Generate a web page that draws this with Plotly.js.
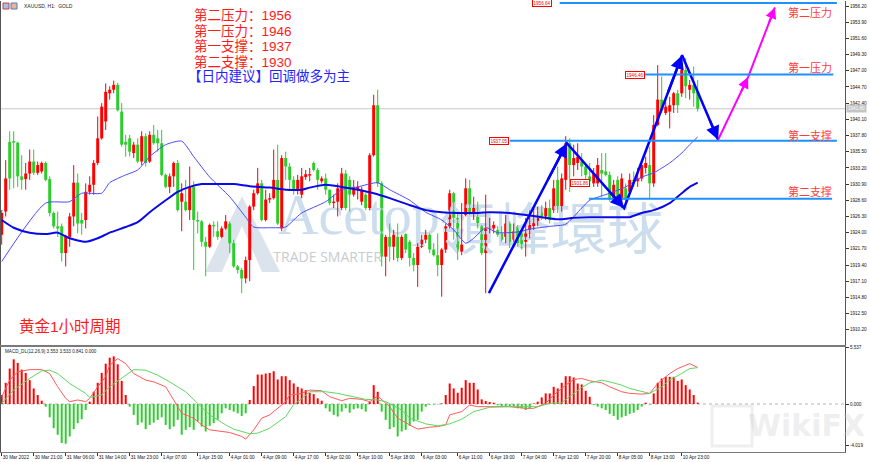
<!DOCTYPE html>
<html><head><meta charset="utf-8">
<script src="https://cdn.plot.ly/plotly-3.0.1.min.js"></script>
<style>html,body{margin:0;padding:0;background:#fff}#chart{width:870px;height:462px}</style>
</head><body><div id="chart"></div>
<script>
// ---- candle data (XAUUSD H1), bar index 0..174 ----
const openP = [1923.7,1927.0,1936.9,1937.0,1936.8,1932.0,1931.6,1932.4,1934.1,1932.5,
1932.7,1933.9,1931.6,1926.8,1924.9,1924.9,1921.1,1923.4,1926.3,1931.1,
1925.8,1925.8,1929.8,1930.8,1933.9,1937.4,1939.8,1943.8,1944.3,1945.0,
1941.2,1936.9,1937.4,1935.3,1936.5,1934.1,1937.7,1934.1,1937.9,1937.4,
1936.7,1932.2,1930.5,1932.0,1933.9,1928.4,1928.4,1927.2,1930.5,1925.8,
1925.6,1922.7,1922.0,1925.1,1924.2,1923.4,1924.6,1925.3,1922.5,1919.2,
1918.7,1917.5,1920.1,1927.7,1929.6,1931.0,1925.8,1928.7,1928.9,1931.5,
1924.6,1934.6,1933.4,1931.5,1930.1,1929.4,1931.9,1932.1,1933.9,1932.9,
1931.3,1931.7,1930.1,1928.2,1928.4,1927.5,1932.4,1931.5,1929.4,1930.1,
1928.4,1929.4,1927.5,1935.0,1942.1,1931.0,1920.6,1923.4,1922.0,1923.4,
1920.4,1923.8,1922.7,1920.4,1919.4,1922.0,1923.0,1923.7,1921.6,1920.8,
1919.4,1921.6,1924.9,1929.6,1926.1,1921.3,1926.5,1930.3,1926.8,1927.7,
1924.9,1921.1,1924.4,1924.6,1924.4,1923.9,1923.4,1925.3,1923.0,1924.9,
1923.9,1922.7,1923.9,1924.9,1925.6,1927.2,1926.3,1927.5,1927.2,1931.5,
1927.5,1931.5,1936.7,1933.6,1933.9,1934.1,1933.4,1932.0,1931.0,1931.0,
1932.9,1932.7,1932.2,1928.7,1931.5,1928.7,1930.3,1929.8,1931.5,1931.3,
1931.7,1933.2,1933.6,1931.0,1939.3,1942.9,1941.0,1941.2,1942.1,1943.8,
1943.8,1947.1,1944.3,1945.0,1944.0];
const highP = [1927.2,1934.3,1938.4,1938.4,1936.9,1935.0,1933.9,1935.8,1935.8,1934.1,
1934.1,1934.1,1932.0,1927.0,1927.0,1925.3,1923.7,1926.8,1933.6,1932.4,
1926.8,1931.0,1932.0,1934.3,1940.5,1942.4,1945.2,1944.8,1945.6,1945.3,
1942.4,1937.9,1937.9,1936.9,1937.4,1938.4,1938.1,1938.4,1939.3,1938.6,
1938.6,1932.4,1932.4,1934.1,1934.3,1931.0,1931.5,1933.4,1931.3,1927.0,
1925.8,1923.4,1925.3,1925.6,1925.6,1924.9,1926.5,1925.6,1923.0,1919.4,
1919.0,1920.6,1927.9,1930.1,1933.2,1931.5,1930.1,1929.6,1935.8,1936.5,
1935.0,1935.5,1933.9,1932.0,1932.2,1933.2,1932.9,1933.2,1934.1,1933.2,
1932.0,1932.4,1930.1,1929.4,1931.0,1933.2,1932.9,1932.0,1931.5,1931.3,
1930.5,1929.6,1935.3,1943.6,1944.3,1931.3,1923.7,1925.3,1924.4,1925.3,
1923.7,1923.9,1923.0,1921.1,1922.5,1923.7,1924.4,1923.9,1922.5,1923.9,
1921.8,1925.3,1930.1,1929.8,1926.8,1928.2,1931.7,1931.5,1929.1,1928.4,
1925.1,1929.4,1926.1,1925.6,1924.9,1924.9,1926.5,1925.6,1925.3,1925.1,
1924.4,1926.1,1927.2,1927.5,1927.7,1927.9,1928.4,1928.7,1931.5,1933.4,
1932.4,1937.7,1937.4,1936.5,1936.7,1935.3,1933.9,1933.9,1933.2,1934.6,
1935.3,1935.3,1932.7,1931.5,1932.0,1932.4,1931.0,1932.4,1932.7,1933.2,
1934.3,1934.8,1936.2,1940.7,1947.8,1946.2,1943.3,1943.3,1944.0,1944.3,
1948.0,1948.8,1945.7,1947.6,1945.7];
const lowP = [1922.3,1926.3,1930.1,1930.3,1930.5,1930.1,1930.1,1931.5,1932.2,1932.2,
1932.4,1931.3,1926.3,1924.6,1923.4,1919.9,1919.2,1922.0,1924.9,1923.9,
1923.7,1924.6,1929.4,1929.4,1933.6,1937.2,1938.6,1942.9,1943.8,1941.2,
1936.2,1934.8,1934.8,1934.6,1933.9,1933.6,1933.4,1933.9,1936.5,1935.5,
1932.0,1930.3,1929.6,1930.5,1927.0,1924.2,1927.0,1925.8,1918.7,1923.9,
1922.0,1917.8,1921.8,1923.4,1923.0,1923.2,1924.4,1921.1,1919.0,1918.2,
1915.4,1916.8,1917.1,1927.2,1929.4,1925.6,1925.6,1928.2,1928.7,1925.1,
1924.2,1931.5,1930.1,1929.4,1929.4,1928.9,1931.5,1931.3,1932.7,1930.1,
1931.0,1929.4,1927.9,1927.5,1926.3,1927.2,1927.2,1927.0,1929.1,1928.7,
1927.9,1927.2,1927.2,1934.8,1930.5,1919.2,1917.8,1919.9,1920.1,1919.9,
1920.1,1921.1,1919.2,1918.5,1916.3,1921.8,1922.5,1921.1,1920.6,1917.8,
1914.9,1921.1,1924.6,1923.0,1920.1,1920.8,1926.3,1926.5,1925.8,1924.6,
1920.8,1915.4,1923.9,1923.9,1923.4,1922.7,1922.5,1921.8,1922.7,1922.0,
1921.6,1920.6,1923.2,1924.4,1924.9,1925.8,1925.8,1925.3,1926.8,1926.8,
1927.0,1930.1,1929.8,1932.0,1932.9,1932.0,1930.5,1930.5,1930.5,1930.5,
1929.1,1932.0,1928.4,1928.2,1928.2,1927.5,1927.5,1929.6,1930.5,1930.5,
1931.3,1932.4,1928.9,1930.5,1939.1,1941.0,1940.7,1938.8,1941.0,1941.0,
1943.3,1943.1,1942.9,1941.9,1941.2];
const closeP = [1926.8,1931.7,1931.7,1936.8,1932.0,1931.5,1932.4,1934.1,1932.5,1933.6,
1933.9,1931.5,1926.8,1924.9,1924.6,1921.1,1923.4,1926.3,1931.1,1925.3,
1925.3,1929.8,1930.8,1933.9,1937.4,1941.9,1944.0,1944.3,1945.0,1941.4,
1936.5,1936.5,1935.5,1936.5,1934.1,1937.7,1933.9,1937.9,1936.7,1936.7,
1932.2,1930.5,1932.0,1933.9,1927.2,1929.6,1927.2,1930.5,1925.8,1925.6,
1922.7,1922.0,1925.1,1924.9,1923.4,1924.6,1925.6,1922.5,1919.2,1918.7,
1917.5,1920.1,1927.7,1929.6,1931.0,1925.8,1928.7,1928.9,1931.5,1925.3,
1934.6,1933.4,1931.5,1930.1,1931.5,1932.0,1932.3,1932.3,1932.9,1931.5,
1931.7,1930.1,1928.2,1928.4,1930.3,1932.4,1927.5,1929.4,1930.5,1930.5,
1930.1,1927.5,1935.0,1942.1,1931.0,1920.6,1923.4,1922.0,1923.7,1920.4,
1923.4,1921.6,1920.4,1919.4,1922.0,1923.0,1923.7,1921.6,1920.8,1919.4,
1921.6,1924.9,1929.6,1926.1,1921.3,1922.3,1930.3,1926.8,1927.7,1924.9,
1921.1,1924.6,1924.9,1925.1,1923.7,1923.0,1925.3,1922.5,1924.2,1922.5,
1921.8,1923.9,1925.1,1925.8,1926.1,1926.3,1927.5,1925.8,1930.3,1927.5,
1931.7,1936.7,1933.6,1934.6,1934.8,1933.4,1932.2,1931.3,1932.4,1933.6,
1932.4,1932.2,1928.7,1930.8,1928.4,1931.7,1928.7,1931.5,1931.3,1931.7,
1933.6,1933.9,1931.0,1939.3,1942.9,1941.4,1941.9,1942.1,1943.8,1942.1,
1947.1,1944.8,1945.0,1943.8,1941.6];

// moving averages (bar index, price)
const maFastX = [0,11,17,20,25,27,31,34,37,41,45,48,52,57,61,63,67,71,73,75,81,85,89,94,97,102,106,110,113,116,118,121,124,129,132,137,141,145,147,152,156,160,163,167,170,172,174];
const maFastY = [1919.9,1928.2,1928.4,1929.6,1929.6,1931.1,1932.2,1932.9,1934.8,1936.5,1937.0,1934.8,1931.9,1929.1,1926.2,1924.8,1924.7,1924.8,1925.8,1926.8,1928.4,1930.1,1930.5,1931.1,1930.1,1928.6,1926.9,1925.8,1924.4,1922.5,1923.2,1924.7,1924.0,1924.1,1924.5,1924.9,1925.2,1927.5,1928.6,1929.6,1930.5,1931.9,1932.5,1933.9,1935.3,1936.5,1937.6];
const maSlowX = [0,3,7,11,14,17,21,24,27,31,34,37,41,44,47,50,54,58,62,67,71,75,77,81,85,89,93,97,102,106,110,114,118,122,127,131,135,139,143,147,153,157,160,163,167,170,172,174];
const maSlowY = [1925.8,1924.7,1924.0,1923.8,1924.0,1923.2,1922.7,1923.2,1924.0,1924.8,1925.5,1926.9,1928.6,1929.8,1930.5,1930.9,1930.9,1930.9,1930.6,1930.4,1930.1,1930.1,1930.4,1930.8,1930.5,1930.1,1929.6,1928.9,1927.9,1927.2,1926.9,1926.8,1926.8,1926.9,1926.8,1926.5,1926.2,1925.9,1926.1,1926.2,1926.2,1926.2,1926.8,1927.2,1928.2,1929.6,1930.5,1931.1];

// MACD_DL(12,26,9)
const macdHist = [0.87,2.06,3.44,4.34,3.99,3.34,3.02,2.32,1.51,0.87,
0.32,-0.26,-1.29,-2.35,-2.99,-3.79,-3.86,-3.15,-2.44,-1.86,
-1.48,-0.58,0.23,1.19,2.06,3.02,3.92,4.50,4.63,3.86,
2.25,0.87,-0.26,-1.06,-2.03,-1.80,-2.44,-2.03,-1.80,-1.54,
-1.29,-2.03,-2.44,-2.19,-1.54,-2.99,-2.51,-2.25,-2.51,-1.70,
-2.19,-2.67,-2.12,-1.86,-1.54,-0.90,-0.42,-0.58,-0.74,-0.90,
-1.16,-0.90,0.39,1.74,2.86,2.86,2.96,3.02,3.18,2.38,
2.70,2.70,2.32,2.00,1.67,1.51,1.35,1.09,0.96,0.55,
0.32,-0.42,-0.74,-1.06,-1.22,-0.74,-0.42,-0.84,-0.51,-0.42,
-0.51,-0.74,0.23,1.83,1.19,-0.74,-1.54,-2.44,-2.25,-3.15,
-2.67,-2.51,-2.12,-1.70,-1.54,-0.74,-0.26,-0.06,-0.05,-0.04,
0.06,0.87,1.99,1.51,1.09,1.58,2.32,2.06,2.06,1.41,
0.45,0.29,0.19,0.13,-0.13,-0.19,-0.26,-0.19,-0.26,-0.42,
-0.42,-0.58,-0.42,0.06,0.23,0.64,1.03,1.03,1.67,1.51,
2.06,2.70,2.70,2.57,1.99,1.90,1.29,0.70,-0.10,-0.26,
-0.42,-0.58,-0.96,-1.16,-1.54,-1.29,-1.16,-0.96,-0.84,-0.58,
-0.26,0.13,-0.06,1.03,2.06,2.48,2.64,2.64,2.64,2.25,
2.38,1.83,1.41,0.87,0.13];
const difX = [0,2,4,7,10,12,14,16,17,19,21,22,24,26,27,29,31,33,36,38,41,43,45,48,50,52,55,57,60,61,63,65,67,69,71,72,75,77,80,82,85,87,90,92,94,97,99,102,104,107,109,111,112,115,117,119,122,124,127,131,133,136,138,141,143,145,147,150,152,155,157,160,162,164,167,169,171,172,174];
const difY = [0.71,2.32,3.12,3.34,3.34,2.96,1.67,0.55,0.23,0.39,0.23,0.55,1.67,2.64,3.76,4.41,3.92,2.96,2.32,2.15,1.67,0.39,-0.90,-1.38,-2.03,-2.51,-2.67,-2.77,-3.15,-3.41,-2.51,-1.38,-1.06,-0.42,0.23,0.87,1.03,1.35,1.29,0.71,0.32,0.55,0.45,0.23,0.77,-0.26,-1.38,-2.03,-2.44,-2.25,-2.19,-2.03,-1.06,-0.74,-0.10,-0.26,-0.26,-0.19,-0.26,-0.42,-0.42,0.06,0.87,1.83,2.38,2.48,2.25,2.06,1.67,1.19,1.03,0.96,1.03,1.99,2.96,3.44,3.76,3.92,3.55];
const deaX = [0,3,7,10,12,14,17,21,22,25,27,31,33,36,39,42,46,49,52,56,58,62,64,67,71,73,75,77,81,84,87,91,94,96,100,102,106,109,112,115,118,122,126,131,134,137,140,142,145,147,150,152,155,157,160,162,165,167,170,172,174];
const deaY = [0.06,1.35,2.48,3.22,3.28,2.96,1.99,1.03,0.64,0.87,1.67,2.80,3.34,3.28,2.80,2.15,1.19,0.06,-1.06,-2.03,-2.44,-2.89,-2.83,-2.35,-1.22,-0.05,0.5,1.19,1.19,1.03,0.77,0.45,0.39,0.23,-0.58,-1.38,-1.93,-2.12,-1.93,-1.48,-0.74,-0.32,-0.26,-0.26,-0.26,0.06,0.13,0.71,1.6,2.05,2.32,2.15,1.83,1.51,1.19,1.03,1.67,2.32,2.96,3.44,3.53];

// axis ticks
const priceTicks = [1910.20,1912.50,1914.80,1917.10,1919.40,1921.70,1924.00,1926.30,1928.60,1930.90,1933.20,1935.50,1937.80,1940.10,1942.40,1944.70,1947.00,1949.30,1951.60,1953.90,1956.20];
const timeTickIdx = [0,8,16,24,32,40,49,57,65,73,81,89,97,105,114,122,130,138,146,154,162,170];
const timeTickText = ['30 Mar 2022','30 Mar 21:00','31 Mar 06:00','31 Mar 14:00','31 Mar 23:00','1 Apr 07:00','1 Apr 15:00','4 Apr 01:00','4 Apr 09:00','4 Apr 17:00','5 Apr 02:00','5 Apr 10:00','5 Apr 18:00','6 Apr 03:00','6 Apr 11:00','6 Apr 19:00','7 Apr 04:00','7 Apr 12:00','7 Apr 20:00','8 Apr 05:00','8 Apr 13:00','10 Apr 23:00'];
const macdTicks = [5.537, 0, -4.019];
const macdTickText = ['5.537','0.000','-4.019'];

// analyst drawings
const levelPrice = [1956.64, 1946.46, 1937.05, 1928.8];
const levelFrom = [139.5, 160.5, 127.0, 146.8];
const levelTo = [208.8, 207.9, 208.8, 207.6];
const tagText = ['1956.64','1946.46','1937.05','1931.86'];
const tagIdx = [135.1, 158.3, 124.3, 144.6];
const tagPrice = [1956.64, 1946.46, 1937.05, 1931.1];
const zoneText = ['第二压力','第一压力','第一支撑','第二支撑'];
const zonePrice = [1955.35, 1947.5, 1937.9, 1929.9];
const zigX = [121.8, 141.3, 155.6, 170.1, 179.1];
const zigY = [1915.4, 1936.7, 1927.5, 1949.2, 1937.2];
const planX = [179.1, 186.6, 193.3];
const planY = [1937.2, 1946.1, 1956.0];
const noteLines = ['第二压力：1956','第一压力：1946','第一支撑：1937','第二支撑：1930'];
const adviceText = '【日内建议】回调做多为主';
const periodText = '黄金1小时周期';

// ---- build ----
const RED = '#ff0000', GREEN = '#2ecc2e';
const CJK = '"Noto Sans CJK SC", sans-serif';
const MIXED = '"Liberation Sans", "Noto Sans CJK SC", sans-serif';
const SMALL = 'Liberation Sans, Arial, sans-serif';
const px = x => (x - 1) / 844;
const py = y => (452 - y) / 451;

const up = {x:[],y:[],b:[]}, dn = {x:[],y:[],b:[]};
const wu = {x:[],y:[]}, wd = {x:[],y:[]};
for (let i = 0; i < openP.length; i++) {
  const o = openP[i], c = closeP[i];
  const lo = Math.min(o, c), h = Math.max(Math.abs(c - o), 0.12);
  const isUp = c >= o;
  const t = isUp ? up : dn, w = isUp ? wu : wd;
  t.x.push(i); t.y.push(h); t.b.push(lo);
  w.x.push(i, i, null); w.y.push(lowP[i], highP[i], null);
}
const histX = macdHist.map((_, i) => i);

const traces = [
  {type:'scatter', mode:'text', x:[89.3], y:[1925.8], text:['Acetop'], textfont:{family:'Liberation Serif, serif', size:56, color:'#ccdded'}, hoverinfo:'skip', cliponaxis:false},
  {type:'scatter', mode:'text', x:[137.3], y:[1923.6], text:['領峰環球'], textfont:{family:'"Noto Sans CJK TC", serif', size:56, color:'#ccdded'}, hoverinfo:'skip', cliponaxis:false},
  {type:'scatter', mode:'text', x:[81.5], y:[1920.4], text:['TRADE SMARTER'], textfont:{family:'Open Sans, sans-serif', size:14, color:'#c8cbcf'}, hoverinfo:'skip', cliponaxis:false},
  {type:'scatter', mode:'lines', x:wu.x, y:wu.y, line:{color:RED, width:1}, hoverinfo:'skip'},
  {type:'scatter', mode:'lines', x:wd.x, y:wd.y, line:{color:GREEN, width:1}, hoverinfo:'skip'},
  {type:'bar', x:up.x, y:up.y, base:up.b, width:0.75, marker:{color:RED, line:{width:0}}},
  {type:'bar', x:dn.x, y:dn.y, base:dn.b, width:0.75, marker:{color:GREEN, line:{width:0}}},
  {type:'scatter', mode:'lines', x:maFastX, y:maFastY, line:{color:'#4a4aff', width:1, shape:'spline', smoothing:0.6}},
  {type:'scatter', mode:'lines', x:maSlowX, y:maSlowY, line:{color:'#0a0ae6', width:2, shape:'spline', smoothing:0.6}},
  {type:'scatter', mode:'lines', x:zigX, y:zigY, line:{color:'#0000ff', width:2.5}},
  {type:'scatter', mode:'lines', x:planX, y:planY, line:{color:'#ff00ff', width:2}, cliponaxis:false},
  {type:'bar', x:histX, y:macdHist, width:0.5, marker:{color:macdHist.map(v => v >= 0 ? RED : GREEN), line:{width:0}}, xaxis:'x2', yaxis:'y2'},
  {type:'scatter', mode:'lines', x:difX, y:difY, line:{color:'#ff5a5a', width:1}, xaxis:'x2', yaxis:'y2'},
  {type:'scatter', mode:'lines', x:deaX, y:deaY, line:{color:'#5fd65f', width:1}, xaxis:'x2', yaxis:'y2'}
];

const shapes = [
  // watermark logo
  {type:'path', xref:'paper', yref:'paper', layer:'below',
   path:`M ${px(205)} ${py(272)} L ${px(242)} ${py(196)} L ${px(280)} ${py(272)} L ${px(262)} ${py(272)} L ${px(242)} ${py(226)} L ${px(222)} ${py(272)} Z`,
   fillcolor:'rgba(175,195,215,0.45)', line:{width:0}},
  // current price line
  {type:'line', xref:'paper', yref:'y', x0:0, x1:1, y0:closeP[closeP.length-1], y1:closeP[closeP.length-1], line:{color:'#c8c8c8', width:1}, layer:'below'},
  // MACD zero line
  {type:'line', xref:'paper', yref:'y2', x0:0, x1:1, y0:0, y1:0, line:{color:'#b4b4b4', width:1, dash:'dot'}, layer:'below'},
  // header icons
  {type:'rect', xref:'paper', yref:'paper', x0:px(3), x1:px(9), y0:py(9), y1:py(3), line:{color:'#d04040', width:1}, fillcolor:'#9fc3e6'},
  {type:'rect', xref:'paper', yref:'paper', x0:px(11), x1:px(17), y0:py(9), y1:py(3), line:{color:'#4a7fc0', width:1}, fillcolor:'#f0b0a0'},
  // WikiFX logo outline
  {type:'rect', xref:'paper', yref:'paper', x0:px(712), x1:px(752), y0:py(446), y1:py(406), line:{color:'rgba(205,205,205,0.35)', width:3}, layer:'above'}
];
levelPrice.forEach((p, k) => shapes.push({type:'line', xref:'x', yref:'y', x0:levelFrom[k], x1:levelTo[k], y0:p, y1:p, line:{color:'#1e90ff', width:2}}));

const annotations = [];
// arrowheads on zigzag & plan
function heads(X, Y, color, w) {
  for (let k = 1; k < X.length; k++) {
    annotations.push({x:X[k], y:Y[k], ax:X[k] - 0.25*(X[k]-X[k-1]), ay:Y[k] - 0.25*(Y[k]-Y[k-1]),
      xref:'x', yref:'y', axref:'x', ayref:'y', text:'', showarrow:true, arrowhead:2, arrowsize:1.1, arrowwidth:w, arrowcolor:color, standoff:0});
  }
}
heads(zigX, zigY, '#0000ff', 2.5);
heads(planX, planY, '#ff00ff', 2);

tagText.forEach((t, k) => annotations.push({x:tagIdx[k], y:tagPrice[k], xref:'x', yref:'y', text:t, showarrow:false,
  font:{family:SMALL, size:4.6, color:'#ff0000'}, bgcolor:'#ffffff', bordercolor:'#ff0000', borderwidth:1, borderpad:0.5}));
zoneText.forEach((t, k) => annotations.push({x:px(834), y:zonePrice[k], xref:'paper', yref:'y', xanchor:'right', yanchor:'middle', text:t, showarrow:false,
  font:{family:CJK, size:11, color:'#ff3b3b'}}));
// note block, each line at its place in the reference (Latin digits in Liberation Sans)
const noteY = [15, 30.5, 46, 61.5];
noteLines.forEach((t, k) => annotations.push({x:px(192), y:py(noteY[k]), xref:'paper', yref:'paper', xanchor:'left', yanchor:'middle', text:t, showarrow:false,
  font:{family:MIXED, size:13.5, color:'#ff1a1a'}}));
annotations.push({x:px(186), y:py(76.5), xref:'paper', yref:'paper', xanchor:'left', yanchor:'middle', text:adviceText, showarrow:false, font:{family:MIXED, size:13.5, color:'#2424ff'}});
annotations.push({x:px(17), y:py(326), xref:'paper', yref:'paper', xanchor:'left', yanchor:'middle', text:periodText, showarrow:false, font:{family:MIXED, size:15.5, color:'#ff1a1a'}});
annotations.push({x:px(22), y:py(6), xref:'paper', yref:'paper', xanchor:'left', yanchor:'middle', text:'XAUUSD, H1:  GOLD', showarrow:false, font:{family:SMALL, size:5, color:'#222'}});
annotations.push({x:px(3), y:py(351), xref:'paper', yref:'paper', xanchor:'left', yanchor:'middle', text:'MACD_DL(12,26,9) 3.553 3.533 0.841 0.000', showarrow:false, font:{family:SMALL, size:4.6, color:'#222'}});
annotations.push({x:1, y:closeP[closeP.length-1], xref:'paper', yref:'y', xanchor:'left', yanchor:'middle', xshift:1, text:closeP[closeP.length-1].toFixed(2), showarrow:false,
  font:{family:SMALL, size:4.6, color:'#ffffff'}, bgcolor:'#c4c4c4', borderpad:1});
annotations.push({x:px(806), y:py(425), xref:'paper', yref:'paper', xanchor:'center', yanchor:'middle', text:'<b>WikiFX</b>', showarrow:false, font:{family:'DejaVu Sans, sans-serif', size:30, color:'rgba(200,200,200,0.3)'}});

const layout = {
  width:870, height:462, margin:{l:1, r:25, t:1, b:10},
  paper_bgcolor:'#ffffff', plot_bgcolor:'#ffffff', showlegend:false, barmode:'overlay',
  xaxis:{domain:[0,1], anchor:'y', range:[-0.175, 210.825], showticklabels:false, ticks:'', showgrid:false, zeroline:false,
    showline:true, linecolor:'#7a7a7a', linewidth:2},
  yaxis:{domain:[py(345), 1], anchor:'x', range:[1908.04, 1956.91], side:'right', tickvals:priceTicks, ticktext:priceTicks.map(v => v.toFixed(2)),
    ticks:'outside', ticklen:3, tickcolor:'#333', tickfont:{family:SMALL, size:4.6, color:'#111'}, showgrid:false, zeroline:false,
    showline:true, mirror:true, linecolor:'#555', linewidth:1},
  xaxis2:{domain:[0,1], anchor:'y2', range:[-0.175, 210.825], tickvals:timeTickIdx, ticktext:timeTickText, ticks:'outside', ticklen:3, tickcolor:'#333',
    ticklabelposition:'outside right', tickangle:0, tickfont:{family:SMALL, size:4.7, color:'#111'}, showgrid:false, zeroline:false,
    showline:true, mirror:true, linecolor:'#7a7a7a', linewidth:1},
  yaxis2:{domain:[0, py(347)], anchor:'x2', range:[-4.663, 5.537], side:'right', tickvals:macdTicks, ticktext:macdTickText,
    ticks:'outside', ticklen:3, tickcolor:'#333', tickfont:{family:SMALL, size:4.6, color:'#111'}, showgrid:false, zeroline:false,
    showline:true, mirror:true, linecolor:'#555', linewidth:1},
  shapes, annotations
};
Plotly.newPlot('chart', traces, layout, {staticPlot:true, displayModeBar:false});
</script>
</body></html>
